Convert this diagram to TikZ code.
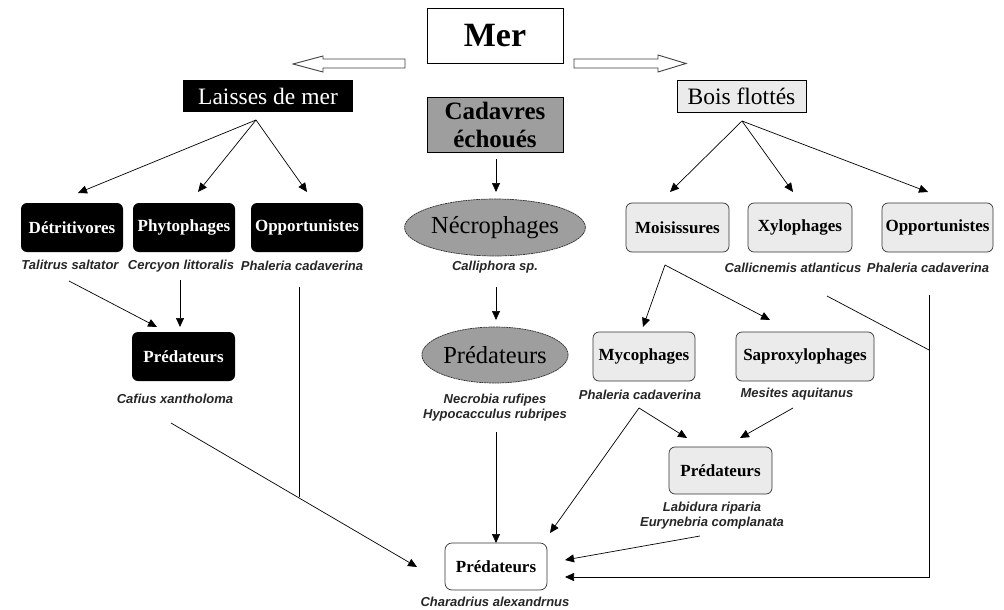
\documentclass[tikz,border=0pt]{standalone}
\usepackage{fontspec}
\setmainfont{Liberation Serif}
\newfontfamily\spfont{Liberation Sans}
\usetikzlibrary{arrows.meta,shapes.geometric}
\definecolor{midgray}{gray}{0.62}
\definecolor{lightgray}{gray}{0.92}
\tikzset{
  con/.style={line width=0.7pt,-{Triangle[length=9pt,width=8pt]}},
  plain/.style={line width=0.7pt},
  boxfont/.style={font=\bfseries\fontsize{17}{19}\selectfont},
  blackbox/.style={boxfont,rounded corners=6pt,fill=black,text=white,minimum height=49pt,inner sep=1pt},
  graybox/.style={boxfont,rounded corners=6pt,draw=black!80,line width=0.7pt,fill=lightgray,minimum height=49pt,inner sep=1pt},
  ell/.style={ellipse,draw=black!80,line width=0.7pt,dash pattern=on 2pt off 0.6pt,fill=midgray,font=\fontsize{24.5}{26}\selectfont,inner sep=0pt},
  sp/.style={font=\spfont\bfseries\itshape\fontsize{13}{15}\selectfont,align=center,inner sep=1pt,text=black!85},
  hollow/.style={draw=black!75,line width=0.9pt,fill=white}
}
\begin{document}
\begin{tikzpicture}[x=1pt,y=-1pt]
\useasboundingbox (0,0) rectangle (1004,610);
% top
\node[draw,line width=0.9pt,minimum width=136pt,minimum height=55pt,font=\bfseries\fontsize{34}{36}\selectfont] (mer) at (495,35.5) {Mer};
\draw[hollow] (405,59) -- (323,59) -- (323,56) -- (293,64) -- (323,72) -- (323,68) -- (405,68) -- cycle;
\draw[hollow] (574,59) -- (658,59) -- (658,55) -- (686,63.5) -- (658,72) -- (658,68) -- (574,68) -- cycle;
\node[fill=black,text=white,minimum width=170pt,minimum height=32pt,inner sep=0pt,font=\fontsize{23.5}{25}\selectfont] (laisses) at (268,96) {Laisses de mer};
\node[draw,line width=0.8pt,fill=midgray,minimum width=136pt,minimum height=55pt,inner sep=0pt,align=center,font=\bfseries\fontsize{25}{28}\selectfont] (cadavres) at (495,124.5) {Cadavres\\échoués};
\node[draw,line width=0.8pt,fill=lightgray,minimum width=129pt,minimum height=32pt,inner sep=0pt,font=\fontsize{23.5}{25}\selectfont] (bois) at (741.5,96) {Bois flottés};
% left column
\node[blackbox,minimum width=102pt] (det) at (72,227.5) {Détritivores};
\node[blackbox,minimum width=102pt] (phyto) at (184,227.5) {Phytophages};
\node[blackbox,minimum width=112pt] (oppL) at (307,227.5) {Opportunistes};
\node[sp] (talitrus) at (70,265) {Talitrus saltator};
\node[sp] (cercyon) at (181,266) {Cercyon littoralis};
\node[sp] (phalL) at (302,266) {Phaleria cadaverina};
\node[blackbox,minimum width=103pt] (predL) at (183.5,356.5) {Prédateurs};
\node[sp] (cafius) at (175,399) {Cafius xantholoma};
% center column
\node[ell,minimum width=136pt,minimum height=57pt] (necro) at (495,227.5) {Nécrophages};
\node[sp] (calliphora) at (495,267) {Calliphora sp.};
\node[ell,minimum width=136pt,minimum height=56pt] (predC) at (495,355) {Prédateurs};
\node[sp] (necrobia) at (495,407.5) {Necrobia rufipes\\Hypocacculus rubripes};
\node[draw=black!80,line width=0.7pt,rounded corners=7pt,fill=white,minimum width=102pt,minimum height=47pt,boxfont] (predF) at (496,566.5) {Prédateurs};
\node[sp] (charadrius) at (495,602) {Charadrius alexandrnus};
% right column
\node[graybox,minimum width=103pt] (moi) at (677.5,227.5) {Moisissures};
\node[graybox,minimum width=104pt] (xylo) at (800,227.5) {Xylophages};
\node[graybox,minimum width=111pt] (oppR) at (937.5,227.5) {Opportunistes};
\node[sp] (callic) at (793,268) {Callicnemis atlanticus};
\node[sp] (phalR) at (928,268) {Phaleria cadaverina};
\node[graybox,minimum width=102pt] (myco) at (644,356.5) {Mycophages};
\node[graybox,minimum width=138pt] (sapro) at (805,356.5) {Saproxylophages};
\node[sp] (phalM) at (640,395) {Phaleria cadaverina};
\node[sp] (mesites) at (797,394) {Mesites aquitanus};
\node[graybox,minimum width=103pt,minimum height=47pt] (predR) at (720.5,470.5) {Prédateurs};
\node[sp] (labidura) at (712,516) {Labidura riparia\\Eurynebria complanata};
% coordinates for connectors
\coordinate (ls) at (256,120);
\coordinate (bs) at (742,121);
\coordinate (ms) at (665,265);
\coordinate (ys) at (639,408);
\coordinate (corner) at (929,577);
\coordinate (join) at (929,350);
% connectors left
\draw[con] (ls) -- (78,193);
\draw[con] (ls) -- (198,192);
\draw[con] (ls) -- (307,192);
\draw[con] (69,281) -- (157,327);
\draw[con] (180,280) -- (180,327);
\draw[plain] (299,287) -- (299,497);
\draw[con] (171,423) -- (417,567);
% center
\draw[con] (496,159) -- (496,192);
\draw[con] (496,287) -- (496,320);
\draw[con] (496,432) -- (496,543);
% right
\draw[con] (bs) -- (670,192);
\draw[con] (bs) -- (793,192);
\draw[con] (bs) -- (928,192);
\draw[con] (ms) -- (643,327);
\draw[con] (ms) -- (770,320);
\draw[con] (ys) -- (687,438);
\draw[con] (ys) -- (550,533);
\draw[con] (793,408) -- (740,438);
\draw[con] (700,536) -- (565,560);
\draw[con] (929,295) -- (corner) -- (565,577);
\draw[plain] (827,296) -- (join);
\end{tikzpicture}
\end{document}
